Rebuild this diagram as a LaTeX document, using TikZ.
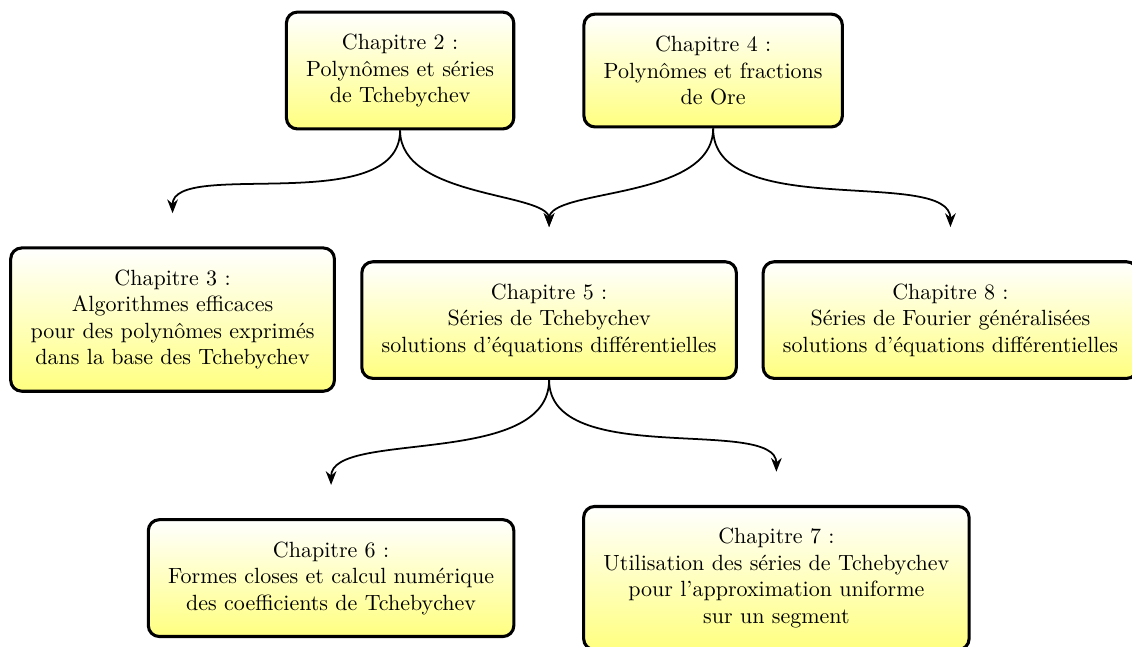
\documentclass[tikz,border=0pt]{standalone}
\usepackage{fontspec}
\usepackage{tikz}
\usetikzlibrary{arrows.meta}
\definecolor{chapyellow}{HTML}{FFFF80}
\tikzset{
  chap/.style={draw, line width=1.4pt, rounded corners=5pt, align=center, inner xsep=9pt, inner ysep=10pt,
               top color=white, bottom color=chapyellow},
  arr/.style={-{Stealth[length=2.2mm, width=1.7mm, inset=0.7mm]}, thick, shorten >=0.53cm},
  swoop/.style={out=-90, in=90, looseness=0.88},
}
\begin{document}
\begin{tikzpicture}
    \useasboundingbox (0,0) rectangle (18.08,-10.32);
    \node[chap] (c2) at (6.39,-1.126) {Chapitre 2 :\\Polynômes et séries\\de Tchebychev};
    \node[chap] (c4) at (11.39,-1.126) {Chapitre 4 :\\Polynômes et fractions\\de Ore};
    \node[chap] (c3) at (2.756,-5.104) {Chapitre 3 :\\Algorithmes efficaces\\pour des polynômes exprimés\\dans la base des Tchebychev};
    \node[chap] (c5) at (8.77,-5.112) {Chapitre 5 :\\Séries de Tchebychev\\solutions d'équations différentielles};
    \node[chap] (c8) at (15.18,-5.112) {Chapitre 8 :\\Séries de Fourier généralisées\\solutions d'équations différentielles};
    \node[chap] (c6) at (5.288,-9.233) {Chapitre 6 :\\Formes closes et calcul numérique\\des coefficients de Tchebychev};
    \node[chap] (c7) at (12.40,-9.233) {Chapitre 7 :\\Utilisation des séries de Tchebychev\\pour l'approximation uniforme\\sur un segment};
    \draw[arr] (c2.south) to[swoop] (c3.north);
    \draw[arr] (c2.south) to[swoop] (c5.north);
    \draw[arr] (c4.south) to[swoop] (c5.north);
    \draw[arr] (c4.south) to[swoop] (c8.north);
    \draw[arr] (c5.south) to[swoop] (c6.north);
    \draw[arr] (c5.south) to[swoop] (c7.north);
\end{tikzpicture}
\end{document}
